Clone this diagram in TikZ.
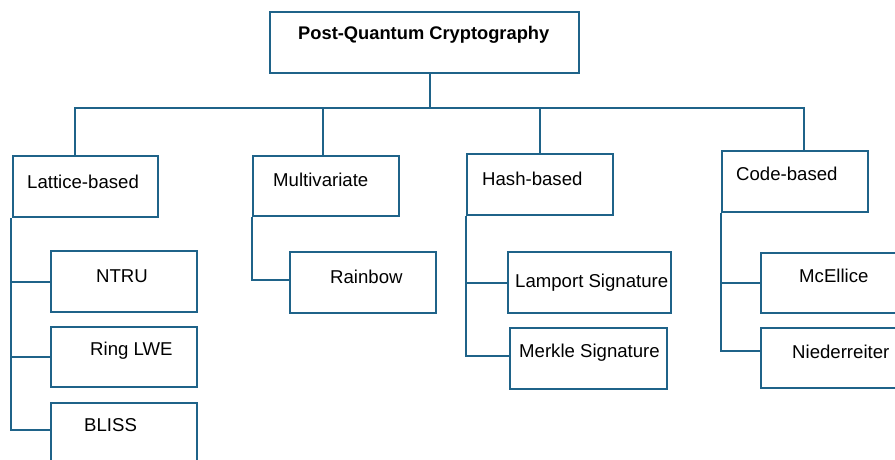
\documentclass[tikz,border=0pt]{standalone}
\usepackage{fontspec}
\setmainfont{Liberation Sans}
\definecolor{pqblue}{RGB}{31,99,137}
\tikzset{
  box/.style={draw=pqblue, line width=2.4pt, rectangle, anchor=north west, inner sep=0pt},
  link/.style={draw=pqblue, line width=2pt},
  lbl/.style={anchor=base west, inner sep=0pt, font=\fontsize{18.6}{21}\selectfont}
}
\begin{document}
\begin{tikzpicture}[x=1pt, y=-1pt]
\useasboundingbox (0,0) rectangle (895,459);
\clip (0,0) rectangle (895,459);
\fill[white] (0,0) rectangle (895,459);
% boxes
\node[box, minimum width=309pt, minimum height=61pt] (pqc) at (269,11) {};
\node[box, minimum width=145pt, minimum height=61pt] (lat) at (12,155) {};
\node[box, minimum width=146pt, minimum height=60pt] (mul) at (252,155) {};
\node[box, minimum width=146pt, minimum height=61pt] (hash) at (466,153) {};
\node[box, minimum width=146pt, minimum height=61pt] (code) at (721,150) {};
\node[box, minimum width=146pt, minimum height=61pt] (ntru) at (50,250) {};
\node[box, minimum width=146pt, minimum height=60pt] (ring) at (50,326) {};
\node[box, minimum width=146pt, minimum height=70pt] (bliss) at (50,402) {};
\node[box, minimum width=146pt, minimum height=61pt] (rain) at (289,251) {};
\node[box, minimum width=163pt, minimum height=61pt] (lamp) at (507,251) {};
\node[box, minimum width=157pt, minimum height=61pt] (merk) at (509,327) {};
\node[box, minimum width=150pt, minimum height=60pt] (mce) at (760,252) {};
\node[box, minimum width=150pt, minimum height=60pt] (nied) at (760,327) {};
% texts
\node[lbl, font=\fontsize{18.3}{21}\selectfont\bfseries] (pqc-t) at (298,39) {Post-Quantum Cryptography};
\node[lbl] (lat-t) at (27,188) {Lattice-based};
\node[lbl] (mul-t) at (273,186) {Multivariate};
\node[lbl] (hash-t) at (482,185) {Hash-based};
\node[lbl] (code-t) at (736,180) {Code-based};
\node[lbl] (ntru-t) at (96,282) {NTRU};
\node[lbl] (ring-t) at (90,355) {Ring LWE};
\node[lbl] (bliss-t) at (84,431) {BLISS};
\node[lbl] (rain-t) at (330,283) {Rainbow};
\node[lbl] (lamp-t) at (515,287) {Lamport Signature};
\node[lbl] (merk-t) at (519,357) {Merkle Signature};
\node[lbl] (mce-t) at (799,282) {McEllice};
\node[lbl] (nied-t) at (792,358) {Niederreiter};
% top level
\coordinate (bus) at (0,108);
\draw[link] ([xshift=5.5pt]pqc.south) -- ([xshift=5.5pt]pqc.south |- bus);
\draw[link] ([xshift=-10.5pt]lat.north) |- ([xshift=9pt]code.north |- bus) -- ([xshift=9pt]code.north);
\draw[link] ([xshift=-3pt]mul.north) -- ([xshift=-3pt]mul.north |- bus);
\draw[link] (hash.north) -- (hash.north |- bus);
% second level
\draw[link] ([xshift=-1pt]lat.south west) |- (ntru.west);
\draw[link] ([xshift=-1pt]lat.south west) |- (ring.west);
\draw[link] ([xshift=-1pt]lat.south west) |- ([yshift=8pt]bliss.west);
\draw[link] (mul.south west) |- ([yshift=3pt]rain.west);
\draw[link] (hash.south west) |- (lamp.west);
\draw[link] (hash.south west) |- ([yshift=3pt]merk.west);
\draw[link] (code.south west) |- (mce.west);
\draw[link] (code.south west) |- ([yshift=7pt]nied.west);
\end{tikzpicture}
\end{document}
